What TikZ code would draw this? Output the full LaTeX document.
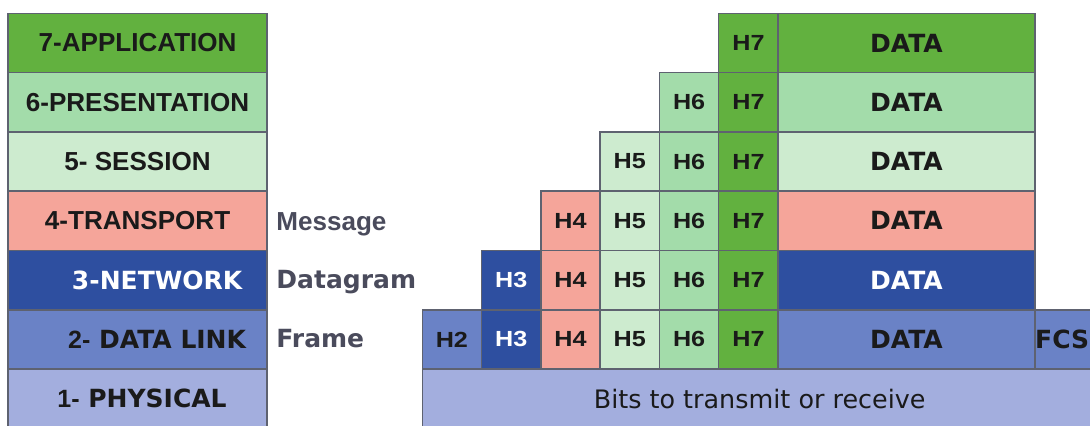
\documentclass[tikz,border=0pt]{standalone}
\usepackage{fontspec}
\setmainfont{DejaVu Sans}
\newfontfamily\arialfont{Liberation Sans}
\usepackage{graphicx}
\usepackage{tikz}
\usetikzlibrary{positioning}
\usepackage{xcolor}
\definecolor{c7}{HTML}{62B13F}
\definecolor{c6}{HTML}{A3DCAA}
\definecolor{c5}{HTML}{CDEBCF}
\definecolor{c4}{HTML}{F5A59A}
\definecolor{c3}{HTML}{2E4FA0}
\definecolor{c2}{HTML}{6A82C6}
\definecolor{c1}{HTML}{A3AEDE}
\definecolor{borde}{HTML}{5E6270}
\definecolor{tinta}{HTML}{1A1A1A}
\definecolor{gris}{HTML}{4A4B5C}
\newcommand{\cab}[1]{\scalebox{1.15}[1]{#1}}

\begin{document}
\begin{tikzpicture}[
    celda/.style={rectangle, draw=borde, line width=0.7pt, minimum width=1cm, minimum height=1cm, inner sep=0pt, text=tinta, font=\arialfont\bfseries\fontsize{10.5}{12}\selectfont},
    capa/.style={rectangle, draw=borde, line width=0.7pt, minimum width=4.365cm, minimum height=1cm, inner sep=0pt, text=tinta, font=\arialfont\bfseries\fontsize{12.5}{14}\selectfont},
    capab/.style={capa, font=\bfseries\fontsize{12}{14}\selectfont},
    datos/.style={rectangle, draw=borde, line width=0.7pt, minimum width=4.33cm, minimum height=1cm, inner sep=0pt, text=tinta, font=\bfseries\fontsize{12}{14}\selectfont},
    unidad/.style={anchor=west, inner sep=0pt, text=gris, font=\bfseries\fontsize{12}{14}\selectfont}
]

    \useasboundingbox (-0.12,0.057) rectangle (18.26,7.224);

    % Capas del modelo OSI
    \node[capa, fill=c7] (capa7) at (2.2,6.5) {7-APPLICATION};
    \node[capa, fill=c6] (capa6) at (2.2,5.5) {6-PRESENTATION};
    \node[capa, fill=c5] (capa5) at (2.2,4.5) {5- SESSION};
    \node[capa, fill=c4] (capa4) at (2.2,3.5) {4-TRANSPORT};
    \node[capab, fill=c3, text=white] (capa3) at (2.2,2.5) {\hspace*{0.66cm}3-NETWORK};
    \node[capab, fill=c2] (capa2) at (2.2,1.5) {\hspace*{0.66cm}{\arialfont 2-} DATA LINK};
    \node[capab, fill=c1] (capa1) at (2.2,0.5) {\hspace*{0.15cm}{\arialfont 1-} PHYSICAL};

    % Nombres de las unidades
    \node[unidad, font=\arialfont\bfseries\fontsize{12.5}{14}\selectfont] (mensaje) at (4.534,3.45) {Message};
    \node[unidad] (datagrama) at (4.534,2.47) {Datagram};
    \node[unidad] (trama) at (4.534,1.52) {Frame};

    % Cabeceras
    \node[celda, fill=c7] (r7h7) at (12.5,6.5) {\cab{H7}};

    \node[celda, fill=c6] (r6h6) at (11.5,5.5) {\cab{H6}};
    \node[celda, fill=c7] (r6h7) at (12.5,5.5) {\cab{H7}};

    \node[celda, fill=c5] (r5h5) at (10.5,4.5) {\cab{H5}};
    \node[celda, fill=c6] (r5h6) at (11.5,4.5) {\cab{H6}};
    \node[celda, fill=c7] (r5h7) at (12.5,4.5) {\cab{H7}};

    \node[celda, fill=c4] (r4h4) at (9.5,3.5) {\cab{H4}};
    \node[celda, fill=c5] (r4h5) at (10.5,3.5) {\cab{H5}};
    \node[celda, fill=c6] (r4h6) at (11.5,3.5) {\cab{H6}};
    \node[celda, fill=c7] (r4h7) at (12.5,3.5) {\cab{H7}};

    \node[celda, fill=c3, text=white] (r3h3) at (8.5,2.5) {\cab{H3}};
    \node[celda, fill=c4] (r3h4) at (9.5,2.5) {\cab{H4}};
    \node[celda, fill=c5] (r3h5) at (10.5,2.5) {\cab{H5}};
    \node[celda, fill=c6] (r3h6) at (11.5,2.5) {\cab{H6}};
    \node[celda, fill=c7] (r3h7) at (12.5,2.5) {\cab{H7}};

    \node[celda, fill=c2] (r2h2) at (7.5,1.5) {\cab{H2}};
    \node[celda, fill=c3, text=white] (r2h3) at (8.5,1.5) {\cab{H3}};
    \node[celda, fill=c4] (r2h4) at (9.5,1.5) {\cab{H4}};
    \node[celda, fill=c5] (r2h5) at (10.5,1.5) {\cab{H5}};
    \node[celda, fill=c6] (r2h6) at (11.5,1.5) {\cab{H6}};
    \node[celda, fill=c7] (r2h7) at (12.5,1.5) {\cab{H7}};

    % Datos
    \node[datos, fill=c7] (d7) at (15.165,6.5) {DATA};
    \node[datos, fill=c6] (d6) at (15.165,5.5) {DATA};
    \node[datos, fill=c5] (d5) at (15.165,4.5) {DATA};
    \node[datos, fill=c4] (d4) at (15.165,3.5) {DATA};
    \node[datos, fill=c3, text=white] (d3) at (15.165,2.5) {DATA};
    \node[datos, fill=c2] (d2) at (15.165,1.5) {DATA};
    \node[datos, fill=c2, minimum width=1.27cm] (fcs) at (17.965,1.5) {FCS\hspace*{0.35cm}};

    % Nivel fisico
    \node[rectangle, draw=borde, line width=0.7pt, fill=c1, minimum width=11.38cm, minimum height=1cm, inner sep=0pt, text=tinta, font=\fontsize{12.2}{14}\selectfont] (bits) at (12.69,0.5) {Bits to transmit or receive};

\end{tikzpicture}
\end{document}
